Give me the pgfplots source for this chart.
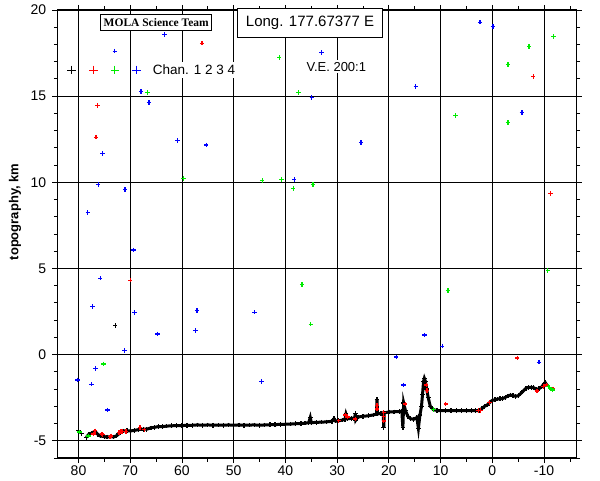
\documentclass[border=0pt]{standalone}
\usepackage{fontspec}
\setmainfont{Liberation Sans}
\newfontfamily\seriffont{Liberation Serif}
\usepackage{pgfplots}
\pgfplotsset{compat=1.18}
\definecolor{cred}{RGB}{255,0,0}
\definecolor{cgreen}{RGB}{0,235,0}
\definecolor{cblue}{RGB}{0,0,255}
\begin{document}
\begin{tikzpicture}
\useasboundingbox (-57.3pt,-22pt) rectangle (542.7pt,458pt);
\begin{axis}[
  at={(0pt,0pt)}, anchor=south west,
  scale only axis, width=519.4pt, height=448pt,
  x dir=reverse, xmin=-16.3, xmax=84.1, ymin=-6, ymax=20,
  xtick={-10,0,...,80}, minor xtick={-15,-5,...,75},
  ytick={-5,0,...,20}, minor ytick={-6,-4,-3,-2,-1,1,2,3,4,6,7,8,9,11,12,13,14,16,17,18,19},
  grid=major, major grid style={black, line width=0.9pt},
  axis line style={black, line width=1.2pt},
  tick align=outside, major tick length=5pt, minor tick length=3.5pt,
  every tick/.style={black, line width=0.9pt},
  ticklabel style={font=\fontsize{14}{16}\selectfont},
  /pgf/number format/assume math mode=true,
  xticklabel style={inner sep=2pt, yshift=-1pt},
  yticklabel style={xshift=-2.5pt},
  legend columns=-1,
  legend image code/.code={\draw[#1, mark size=4.3pt, line width=1pt] plot coordinates {(0pt,0pt)};},
  legend style={draw=none, fill=none, inner sep=0pt, outer sep=0pt, nodes={inner sep=0pt},
    at={(0.0196,0.866)}, anchor=west,
    /tikz/every even column/.append style={column sep=12pt}},
]
% Chan. 1 track (black)
\addplot[forget plot, black, line width=3pt, mark=+, mark size=2.3pt, mark options={line width=1.3pt}] coordinates {
(78.5,-4.80) (78.0,-4.62) (77.4,-4.55) (76.8,-4.45) (76.3,-4.62) (75.8,-4.72) (75.0,-4.76)
(74.5,-4.78) (73.8,-4.76) (73.2,-4.78) (72.6,-4.70) (72.0,-4.55) (71.4,-4.43) (70.6,-4.42)
(70.0,-4.43) (69.2,-4.40) (68.4,-4.35) (67.5,-4.33) (66.8,-4.33) (66.0,-4.25) (65.3,-4.22)
(64.6,-4.18) (63.8,-4.18) (63.0,-4.15) (62.0,-4.13) (61.0,-4.12) (60.0,-4.12) (59.0,-4.10)
(58.0,-4.10) (57.0,-4.08) (56.0,-4.10) (55.0,-4.08) (54.0,-4.10) (53.0,-4.09) (52.0,-4.10)
(51.0,-4.08) (50.0,-4.10) (49.0,-4.08) (48.0,-4.10) (47.0,-4.09) (46.0,-4.08) (45.0,-4.10)
(44.0,-4.08) (43.0,-4.07) (42.0,-4.06) (41.0,-4.05) (40.0,-4.04) (39.0,-4.03) (38.0,-4.01)
(37.0,-4.00) (36.2,-3.98) (35.5,-3.95) (35.2,-3.65) (35.0,-3.95) (34.0,-3.93) (33.0,-3.92)
(32.0,-3.90) (31.0,-3.87) (30.6,-3.72) (30.3,-3.86) (29.7,-3.84) (29.0,-3.80) (28.5,-3.75)
(28.3,-3.45) (28.0,-3.72) (27.2,-3.70) (26.6,-3.68) (26.5,-3.40) (26.4,-3.80) (26.0,-3.62)
(25.0,-3.58) (24.0,-3.55) (23.0,-3.50) (22.4,-3.45) (22.3,-2.60) (22.2,-3.45) (21.5,-3.40)
(21.1,-3.38) (21.0,-4.25) (20.9,-3.38) (20.0,-3.33) (19.0,-3.32) (18.0,-3.30) (17.5,-3.28)
(17.3,-4.25) (17.15,-2.80) (16.8,-3.25) (16.3,-3.60) (15.8,-3.72) (15.2,-3.75) (14.6,-3.65)
(14.3,-4.28) (14.0,-3.50) (13.7,-3.00) (13.5,-2.30) (13.3,-1.55) (13.15,-1.38) (12.95,-1.55)
(12.7,-2.00) (12.4,-2.50) (12.0,-3.00) (11.4,-3.20) (10.7,-3.24) (10.0,-3.25) (9.0,-3.25)
(8.0,-3.25) (7.0,-3.25) (6.0,-3.25) (5.0,-3.25) (4.0,-3.25) (3.2,-3.25) (2.6,-3.24)
(2.0,-3.12) (1.5,-3.00) (1.0,-2.92) (0.5,-2.78) (0.0,-2.65) (-0.5,-2.62) (-1.0,-2.58)
(-1.5,-2.55) (-2.0,-2.55) (-2.5,-2.48) (-3.0,-2.40) (-3.5,-2.35) (-4.0,-2.38) (-4.5,-2.42)
(-5.0,-2.38) (-5.5,-2.25) (-6.0,-2.10) (-6.5,-1.95) (-7.0,-1.90) (-7.5,-1.90) (-8.0,-1.92)
(-8.5,-2.02) (-9.0,-1.98) (-9.5,-1.88) (-10.0,-1.70) (-10.2,-1.62) (-10.5,-1.75)
};
% Chan. 1 isolated
\addplot[forget plot, only marks, black, mark=+, mark size=2.2pt, mark options={line width=1.3pt}] coordinates {
(80.0,-4.42) (79.4,-4.57) (72.9,1.70)
};
% Chan. 2 (red)
\addplot[forget plot, only marks, cred, mark=+, mark size=2.2pt, mark options={line width=1.3pt}] coordinates {
(56.1,18.07) (76.3,14.46) (76.6,12.62) (70.0,4.32) (-7.9,16.14) (-11.2,9.36) (-4.8,-0.19) (9.0,-2.87)
(77.1,-4.60) (76.8,-4.42) (75.5,-4.61) (75.3,-4.63) (73.9,-4.77) (73.7,-4.72) (72.2,-4.53)
(71.8,-4.47) (71.45,-4.47) (70.8,-4.47) (68.1,-4.22) (67.3,-4.36)
(29.7,-3.84) (28.4,-3.50) (28.0,-3.62) (26.5,-3.73) (22.3,-2.95) (22.3,-3.15)
(21.0,-3.35) (21.0,-3.60) (21.0,-3.85) (16.85,-2.87) (12.8,-1.76) (12.65,-2.09)
(2.7,-3.25) (2.3,-3.25) (0.55,-2.77) (-8.6,-2.11) (-9.9,-1.86) (-10.4,-1.76) (-11.7,-2.00)
};
% Chan. 3 (green)
\addplot[forget plot, only marks, cgreen, mark=+, mark size=2.2pt, mark options={line width=1.3pt}] coordinates {
(41.2,17.24) (-7.1,17.88) (-11.8,18.46) (-3.0,16.84) (66.7,15.21) (37.5,15.21) (7.1,13.88)
(-3.0,13.47) (59.7,10.23) (44.5,10.11) (40.8,10.17) (38.5,9.65) (34.7,9.88) (-10.7,4.89)
(36.8,4.08) (8.6,3.73) (35.1,1.76) (75.2,-0.54) (79.8,-4.49) (78.1,-4.72) (11.4,-3.18)
(-10.8,-1.85) (-11.1,-1.92) (-11.4,-2.00) (-11.6,-2.05)
};
% Chan. 4 (blue)
\addplot[forget plot, only marks, cblue, mark=+, mark size=2.2pt, mark options={line width=1.3pt}] coordinates {
(63.4,18.58) (73.0,17.61) (33.0,17.53) (2.4,19.29) (-0.1,19.04) (67.9,15.27) (66.4,14.63)
(34.9,14.92) (14.8,15.56) (-5.7,14.05) (60.9,12.43) (55.3,12.16) (25.4,12.31) (75.4,11.68)
(76.2,9.88) (71.0,9.59) (38.3,10.17) (78.2,8.25) (69.4,6.07) (75.8,4.43) (77.3,2.80)
(69.2,2.44) (57.1,2.57) (57.4,1.39) (64.7,1.20) (46.0,2.46) (13.1,1.14) (9.7,0.49)
(71.1,0.25) (18.6,-0.13) (-9.0,-0.44) (80.2,-1.47) (76.75,-0.80) (77.5,-1.72) (74.4,-3.22)
(44.6,-1.55) (17.2,-1.76)
};
\addlegendimage{only marks, mark=+, black}\addlegendentry{}
\addlegendimage{only marks, mark=+, cred}\addlegendentry{}
\addlegendimage{only marks, mark=+, cgreen}\addlegendentry{}
\addlegendimage{only marks, mark=+, cblue}\addlegendentry{}
\end{axis}
\node[draw, line width=1pt, fill=white, inner sep=0pt, minimum width=111pt, minimum height=15.7pt,
  font=\seriffont\bfseries\fontsize{11.5}{14}\selectfont] at (98.9pt,435.2pt) {MOLA Science Team};
\node[draw, line width=1pt, fill=white, inner sep=0pt, minimum width=145.4pt, minimum height=29pt,
  font=\fontsize{15}{18}\selectfont] at (252.7pt,435.2pt) {Long. 177.67377 E};
\node[fill=white, inner sep=2pt, font=\fontsize{13}{15}\selectfont] at (279pt,391.3pt) {V.E. 200:1};
\node[fill=white, inner sep=3pt, font=\fontsize{13.5}{16}\selectfont] at (136.7pt,388pt) {Chan. 1 2 3 4};
\node[rotate=90, font=\bfseries\fontsize{13}{16}\selectfont] at (-42.3pt,246pt) {topography, km};
\end{tikzpicture}
\end{document}
